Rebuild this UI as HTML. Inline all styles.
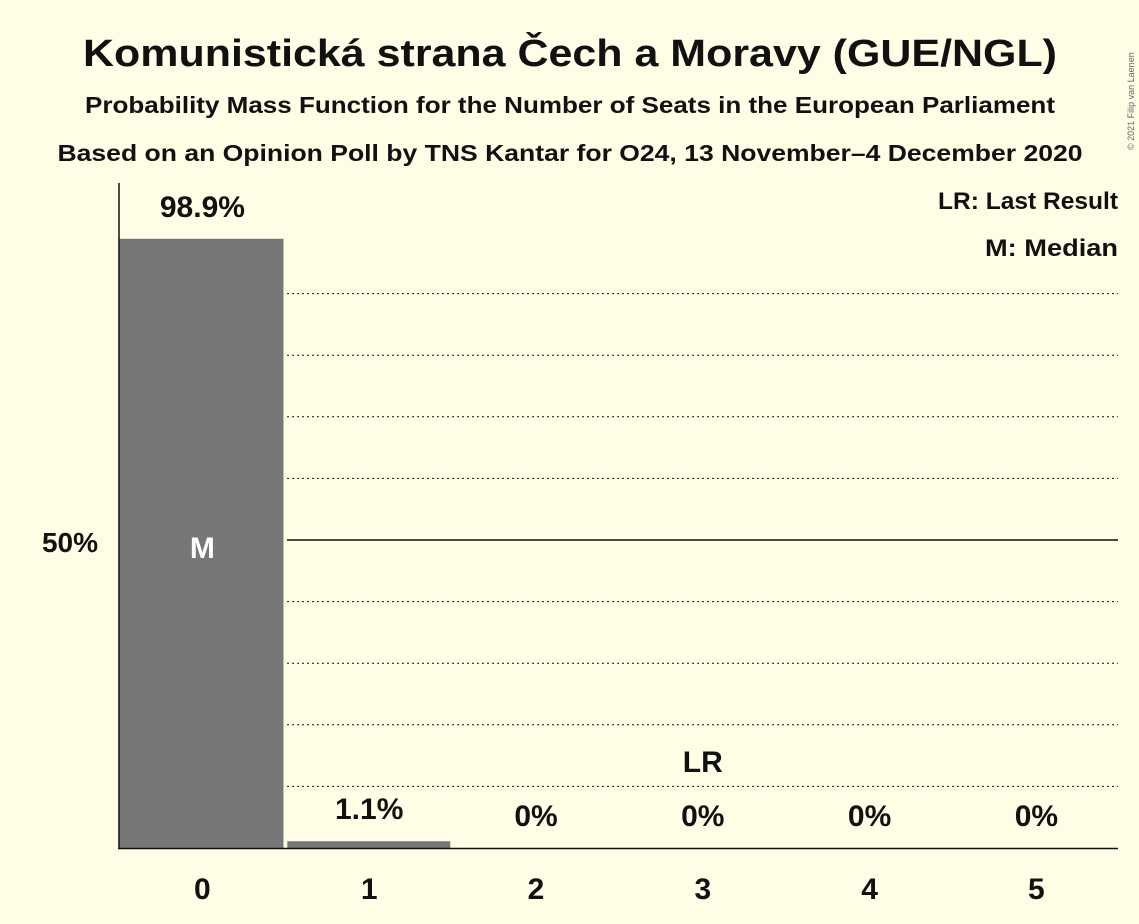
<!DOCTYPE html>
<html><head><meta charset="utf-8"><style>
body{margin:0;background:#fffde6;}
svg{display:block;font-family:"Liberation Sans",sans-serif;font-weight:bold;}
</style></head><body>
<svg id="chart" width="1139" height="924" viewBox="0 0 1139 924">
<rect width="1139" height="924" fill="#fffde6"/>
<text x="570" y="66" text-anchor="middle" font-size="38" textLength="974" lengthAdjust="spacingAndGlyphs" fill="#111">Komunistická strana Čech a Moravy (GUE/NGL)</text>
<text x="570" y="113" text-anchor="middle" font-size="23" textLength="970" lengthAdjust="spacingAndGlyphs" fill="#111">Probability Mass Function for the Number of Seats in the European Parliament</text>
<text x="570" y="161" text-anchor="middle" font-size="23" textLength="1025" lengthAdjust="spacingAndGlyphs" fill="#111">Based on an Opinion Poll by TNS Kantar for O24, 13 November–4 December 2020</text>
<text transform="translate(1134,150) rotate(-90)" font-size="9" font-weight="normal" fill="#666">© 2021 Filip van Laenen</text>
<text x="1118" y="209" text-anchor="end" font-size="24" textLength="180" lengthAdjust="spacingAndGlyphs" fill="#111">LR: Last Result</text>
<text x="1118" y="256" text-anchor="end" font-size="24" textLength="133" lengthAdjust="spacingAndGlyphs" fill="#111">M: Median</text>
<g id="grid"></g>
<g id="bars"></g>
<line x1="119" y1="183" x2="119" y2="849" stroke="#111" stroke-width="1.5"/>
<line x1="118" y1="848.5" x2="1118" y2="848.5" stroke="#111" stroke-width="1.5"/>
<text x="98" y="552" text-anchor="end" font-size="28" fill="#111">50%</text>
</svg>
<script>
const seats = [0, 1, 2, 3, 4, 5];
const probs = [98.9, 1.1, 0, 0, 0, 0];
const valueLabels = ["98.9%", "1.1%", "0%", "0%", "0%", "0%"];
const lastResult = 3;
const median = 0;
const gridValues = [10, 20, 30, 40, 50, 60, 70, 80, 90];

const NS = "http://www.w3.org/2000/svg";
const y = v => 848 - v * 6.16;
const xl = i => 119 + i * 166.8;
const grid = document.getElementById("grid");
const bars = document.getElementById("bars");
function mk(tag, attrs, parent) { const e = document.createElementNS(NS, tag); for (const k in attrs) e.setAttribute(k, attrs[k]); parent.appendChild(e); return e; }
gridValues.forEach(g => {
  const l = mk("line", {x1: 287, x2: 1118, y1: y(g), y2: y(g), stroke: "#111", "stroke-width": g === 50 ? 1.5 : 1, "stroke-dasharray": g === 50 ? "" : "2,3"}, grid);
  
  
});
seats.forEach((s, i) => {
  const x0 = xl(i) + (i === 0 ? 0 : 1.5), w = 164.5 - (i === 0 ? 0 : 1.5);
  const cx = xl(i) + 83.4;
  if (probs[i] > 0) {
    const r = mk("rect", {x: x0, y: y(probs[i]), width: w, height: 848 - y(probs[i]), fill: "#777"}, bars);
    
    
  }
  const t = mk("text", {x: cx, y: Math.min(y(probs[i]), 848) - 22, "text-anchor": "middle", "font-size": 30, fill: "#111"}, bars);
  t.textContent = valueLabels[i];
  
  
  const xt = mk("text", {x: cx, y: 899, "text-anchor": "middle", "font-size": 30, fill: "#111"}, bars);
  xt.textContent = s;
  
  
  if (s === median) {
    const m = mk("text", {x: cx, y: 558, "text-anchor": "middle", "font-size": 30, fill: "#fff"}, bars);
    m.textContent = "M";
    
    
  }
  if (s === lastResult) {
    const lr = mk("text", {x: cx, y: 772, "text-anchor": "middle", "font-size": 30, fill: "#111"}, bars);
    lr.textContent = "LR";
    
    
  }
});
</script>
</body></html>
